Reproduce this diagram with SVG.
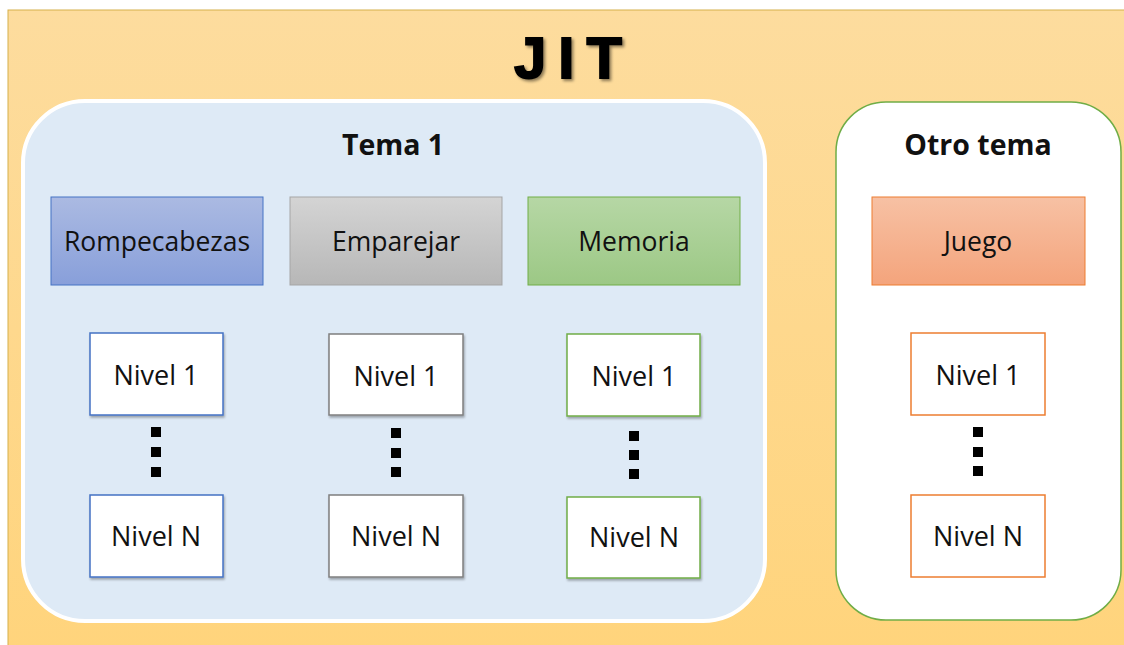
<svg xmlns="http://www.w3.org/2000/svg" width="1124" height="645" viewBox="0 0 1124 645">
<defs>
<linearGradient id="bg" x1="0" y1="0" x2="0" y2="1"><stop offset="0" stop-color="#FDDC9E"/><stop offset="1" stop-color="#FFD47C"/></linearGradient>
<linearGradient id="gBlue" x1="0" y1="0" x2="0" y2="1"><stop offset="0" stop-color="#ABBAE2"/><stop offset="1" stop-color="#889FDA"/></linearGradient>
<linearGradient id="gGray" x1="0" y1="0" x2="0" y2="1"><stop offset="0" stop-color="#D4D4D4"/><stop offset="1" stop-color="#B7B7B7"/></linearGradient>
<linearGradient id="gGreen" x1="0" y1="0" x2="0" y2="1"><stop offset="0" stop-color="#B6D7A5"/><stop offset="1" stop-color="#9CC885"/></linearGradient>
<linearGradient id="gOrange" x1="0" y1="0" x2="0" y2="1"><stop offset="0" stop-color="#F7C1A4"/><stop offset="1" stop-color="#F4A47C"/></linearGradient>
<filter id="sh" x="-10%" y="-10%" width="120%" height="130%"><feDropShadow dx="1" dy="2" stdDeviation="1" flood-color="#000" flood-opacity="0.3"/></filter>
<filter id="tsh" x="-10%" y="-10%" width="130%" height="130%"><feDropShadow dx="2" dy="2" stdDeviation="1.5" flood-color="#000" flood-opacity="0.45"/></filter>
</defs>
<style>
.hdr{font-family:"Open Sans","Noto Sans",sans-serif;font-size:26.5px;fill:#111;text-anchor:middle}
.lvl{font-family:"Open Sans","Noto Sans",sans-serif;font-size:27px;fill:#111;text-anchor:middle}
.ttl{font-family:"Open Sans","Noto Sans",sans-serif;font-size:28.5px;font-weight:bold;fill:#111;text-anchor:middle}
.box{fill:#fff;stroke-width:1.5}
.dot{fill:#000}
</style>
<rect x="8" y="10" width="1120" height="640" fill="url(#bg)" stroke="#D6B04A" stroke-width="1"/>
<text x="574" y="78" font-family="Liberation Sans, Arial, sans-serif" font-weight="bold" font-size="58" letter-spacing="12" text-anchor="middle" fill="#000" stroke="#000" stroke-width="1.8" filter="url(#tsh)">JIT</text>

<g id="tema1">
<rect x="23" y="101" width="742" height="520" rx="62" ry="62" fill="#DEEAF6" stroke="#fff" stroke-width="4"/>
<text class="ttl" x="393" y="155">Tema 1</text>
</g>
<g id="otro-tema">
<rect x="836" y="102" width="285" height="518" rx="50" ry="50" fill="#fff" stroke="#70AD47" stroke-width="1.5"/>
<text class="ttl" x="978" y="155">Otro tema</text>
</g>

<g id="rompecabezas"><rect x="51" y="197" width="212" height="88" fill="url(#gBlue)" stroke="#4472C4" stroke-width="1"/><text class="hdr" x="157" y="251">Rompecabezas</text></g>
<g id="emparejar"><rect x="290" y="197" width="212" height="88" fill="url(#gGray)" stroke="#A5A5A5" stroke-width="1"/><text class="hdr" x="396" y="251">Emparejar</text></g>
<g id="memoria"><rect x="528" y="197" width="212" height="88" fill="url(#gGreen)" stroke="#70AD47" stroke-width="1"/><text class="hdr" x="634" y="251">Memoria</text></g>
<g id="juego"><rect x="872" y="197" width="213" height="88" fill="url(#gOrange)" stroke="#ED7D31" stroke-width="1"/><text class="hdr" x="978" y="251">Juego</text></g>

<g id="r-n1"><rect class="box" x="90" y="333" width="133" height="82" stroke="#4472C4" filter="url(#sh)"/><text class="lvl" x="156" y="385">Nivel 1</text></g>
<g id="r-nn"><rect class="box" x="90" y="495" width="133" height="82" stroke="#4472C4" filter="url(#sh)"/><text class="lvl" x="156" y="546">Nivel N</text></g>
<g id="e-n1"><rect class="box" x="329" y="334" width="134" height="81" stroke="#7F7F7F" filter="url(#sh)"/><text class="lvl" x="396" y="386">Nivel 1</text></g>
<g id="e-nn"><rect class="box" x="329" y="495" width="134" height="82" stroke="#7F7F7F" filter="url(#sh)"/><text class="lvl" x="396" y="546">Nivel N</text></g>
<g id="m-n1"><rect class="box" x="567" y="334" width="133" height="82" stroke="#70AD47" filter="url(#sh)"/><text class="lvl" x="634" y="386">Nivel 1</text></g>
<g id="m-nn"><rect class="box" x="567" y="497" width="133" height="81" stroke="#70AD47" filter="url(#sh)"/><text class="lvl" x="634" y="547">Nivel N</text></g>
<g id="j-n1"><rect class="box" x="911" y="333" width="134" height="82" stroke="#ED7D31"/><text class="lvl" x="978" y="385">Nivel 1</text></g>
<g id="j-nn"><rect class="box" x="911" y="495" width="134" height="82" stroke="#ED7D31"/><text class="lvl" x="978" y="546">Nivel N</text></g>

<g id="connectors">
<rect class="dot" x="151" y="427" width="10" height="10"/><rect class="dot" x="151" y="447" width="10" height="10"/><rect class="dot" x="151" y="467" width="10" height="10"/>
<rect class="dot" x="391" y="428" width="10" height="10"/><rect class="dot" x="391" y="448" width="10" height="10"/><rect class="dot" x="391" y="467" width="10" height="10"/>
<rect class="dot" x="629" y="431" width="10" height="10"/><rect class="dot" x="629" y="450" width="10" height="10"/><rect class="dot" x="629" y="469" width="10" height="10"/>
<rect class="dot" x="973" y="427" width="10" height="10"/><rect class="dot" x="973" y="447" width="10" height="10"/><rect class="dot" x="973" y="466" width="10" height="10"/>
</g>
</svg>
